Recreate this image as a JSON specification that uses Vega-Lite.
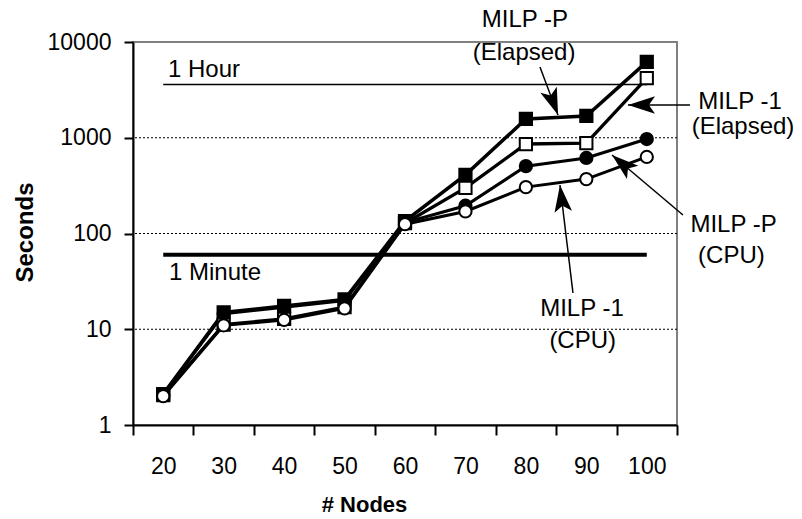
{
  "$schema": "https://vega.github.io/schema/vega-lite/v6.json",
  "width": 544,
  "height": 383,
  "autosize": "none",
  "padding": {"left": 133, "top": 42, "right": 125, "bottom": 94},
  "background": "white",
  "config": {
    "view": {"stroke": "#808080", "strokeWidth": 2},
    "font": "Liberation Sans",
    "text": {"font": "Liberation Sans"}
  },
  "resolve": {"axis": {"x": "independent"}},
  "datasets": {
    "series": [
      {"series": "MILP-P (Elapsed)", "n": 20, "s": 2.1},
      {"series": "MILP-P (Elapsed)", "n": 30, "s": 15},
      {"series": "MILP-P (Elapsed)", "n": 40, "s": 17.5},
      {"series": "MILP-P (Elapsed)", "n": 50, "s": 20.5},
      {"series": "MILP-P (Elapsed)", "n": 60, "s": 135},
      {"series": "MILP-P (Elapsed)", "n": 70, "s": 410},
      {"series": "MILP-P (Elapsed)", "n": 80, "s": 1570},
      {"series": "MILP-P (Elapsed)", "n": 90, "s": 1690},
      {"series": "MILP-P (Elapsed)", "n": 100, "s": 6200},
      {"series": "MILP-1 (Elapsed)", "n": 20, "s": 2.05},
      {"series": "MILP-1 (Elapsed)", "n": 30, "s": 11.2},
      {"series": "MILP-1 (Elapsed)", "n": 40, "s": 12.8},
      {"series": "MILP-1 (Elapsed)", "n": 50, "s": 17},
      {"series": "MILP-1 (Elapsed)", "n": 60, "s": 128},
      {"series": "MILP-1 (Elapsed)", "n": 70, "s": 300},
      {"series": "MILP-1 (Elapsed)", "n": 80, "s": 860},
      {"series": "MILP-1 (Elapsed)", "n": 90, "s": 880},
      {"series": "MILP-1 (Elapsed)", "n": 100, "s": 4200},
      {"series": "MILP-P (CPU)", "n": 20, "s": 2.1},
      {"series": "MILP-P (CPU)", "n": 30, "s": 14.5},
      {"series": "MILP-P (CPU)", "n": 40, "s": 17},
      {"series": "MILP-P (CPU)", "n": 50, "s": 20},
      {"series": "MILP-P (CPU)", "n": 60, "s": 130},
      {"series": "MILP-P (CPU)", "n": 70, "s": 195},
      {"series": "MILP-P (CPU)", "n": 80, "s": 505},
      {"series": "MILP-P (CPU)", "n": 90, "s": 615},
      {"series": "MILP-P (CPU)", "n": 100, "s": 970},
      {"series": "MILP-1 (CPU)", "n": 20, "s": 2.0},
      {"series": "MILP-1 (CPU)", "n": 30, "s": 11},
      {"series": "MILP-1 (CPU)", "n": 40, "s": 12.5},
      {"series": "MILP-1 (CPU)", "n": 50, "s": 16.5},
      {"series": "MILP-1 (CPU)", "n": 60, "s": 125},
      {"series": "MILP-1 (CPU)", "n": 70, "s": 170},
      {"series": "MILP-1 (CPU)", "n": 80, "s": 305},
      {"series": "MILP-1 (CPU)", "n": 90, "s": 370},
      {"series": "MILP-1 (CPU)", "n": 100, "s": 630}
    ],
    "labels": [
      {"label": "MILP -P", "n": 79.85, "s": 16810},
      {"label": "(Elapsed)", "n": 79.7, "s": 7603},
      {"label": "MILP -1", "n": 115.42, "s": 2340},
      {"label": "(Elapsed)", "n": 115.92, "s": 1283},
      {"label": "MILP -P", "n": 114.35, "s": 122.96},
      {"label": "(CPU)", "n": 114.0, "s": 57.67},
      {"label": "MILP -1", "n": 89.28, "s": 16.12},
      {"label": "(CPU)", "n": 89.4, "s": 7.47}
    ],
    "shafts": [
      {"n": 82.33, "s": 5483, "n2": 85.31, "s2": 1728},
      {"n": 107.15, "s": 2198, "n2": 96.89, "s2": 2198},
      {"n": 105.99, "s": 156.1, "n2": 94.25, "s2": 660.2},
      {"n": 87.79, "s": 23.91, "n2": 85.64, "s2": 321.0}
    ]
  },
  "layer": [
    {
      "data": {"values": [{"s": 10}, {"s": 100}, {"s": 1000}]},
      "mark": {"type": "rule", "color": "black", "strokeWidth": 1, "strokeDash": [2, 2]},
      "encoding": {
        "y": {
          "field": "s", "type": "quantitative",
          "scale": {"type": "log", "domain": [1, 10000], "nice": false},
          "axis": {
            "title": "Seconds",
            "values": [1, 10, 100, 1000, 10000],
            "labelExpr": "format(datum.value, 'd')",
            "labelFontSize": 23,
            "labelColor": "black",
            "labelPadding": 13,
            "tickSize": 9,
            "tickWidth": 2,
            "tickColor": "black",
            "domainColor": "black",
            "domainWidth": 2,
            "grid": false,
            "titleFontSize": 24,
            "titleFontWeight": "bold",
            "titleColor": "black",
            "titleX": -108,
            "titleY": 190,
            "titleBaseline": "middle",
            "titleAlign": "center",
            "titleAngle": -90
          }
        }
      }
    },
    {
      "data": {"values": [{"label": "1 Hour", "n": 20, "n2": 100, "s": 3600}]},
      "mark": {"type": "rule", "color": "black", "strokeWidth": 1.5},
      "encoding": {
        "x": {
          "field": "n", "type": "quantitative",
          "scale": {"domain": [15, 105], "nice": false, "zero": false},
          "axis": {
            "orient": "bottom",
            "title": null,
            "values": [15, 25, 35, 45, 55, 65, 75, 85, 95, 105],
            "labels": false,
            "tickSize": 10,
            "tickWidth": 2,
            "tickColor": "black",
            "domainColor": "black",
            "domainWidth": 2,
            "grid": false
          }
        },
        "x2": {"field": "n2"},
        "y": {"field": "s", "type": "quantitative", "scale": {"type": "log", "domain": [1, 10000], "nice": false}}
      }
    },
    {
      "data": {"values": [{"label": "1 Minute", "n": 20, "n2": 100, "s": 60}]},
      "mark": {"type": "rule", "color": "black", "strokeWidth": 4},
      "encoding": {
        "x": {"field": "n", "type": "quantitative", "scale": {"domain": [15, 105], "nice": false, "zero": false}, "axis": null},
        "x2": {"field": "n2"},
        "y": {"field": "s", "type": "quantitative", "scale": {"type": "log", "domain": [1, 10000], "nice": false}}
      }
    },
    {
      "data": {"name": "series"},
      "mark": {"type": "line", "color": "black"},
      "encoding": {
        "x": {
          "field": "n", "type": "quantitative",
          "scale": {"domain": [15, 105], "nice": false, "zero": false},
          "axis": {
            "orient": "bottom",
            "title": "# Nodes",
            "values": [20, 30, 40, 50, 60, 70, 80, 90, 100],
            "format": "d",
            "labelOverlap": false,
            "labelFlush": false,
            "labelFontSize": 23,
            "labelColor": "black",
            "labelPadding": 30,
            "ticks": false,
            "domain": false,
            "grid": false,
            "titleFontSize": 22,
            "titleFontWeight": "bold",
            "titleColor": "black",
            "titleX": 231,
            "titleY": 79,
            "titleBaseline": "middle",
            "titleAlign": "center"
          }
        },
        "y": {"field": "s", "type": "quantitative", "scale": {"type": "log", "domain": [1, 10000], "nice": false}},
        "detail": {"field": "series", "type": "nominal"},
        "strokeWidth": {
          "field": "series", "type": "nominal",
          "scale": {"domain": ["MILP-P (Elapsed)", "MILP-1 (Elapsed)", "MILP-P (CPU)", "MILP-1 (CPU)"], "range": [3.5, 3, 1.5, 1.5]},
          "legend": null
        }
      }
    },
    {
      "data": {"name": "series"},
      "mark": {"type": "point", "filled": false, "stroke": "black", "strokeWidth": 2, "opacity": 1},
      "encoding": {
        "x": {"field": "n", "type": "quantitative", "scale": {"domain": [15, 105], "nice": false, "zero": false}, "axis": null},
        "y": {"field": "s", "type": "quantitative", "scale": {"type": "log", "domain": [1, 10000], "nice": false}},
        "shape": {
          "field": "series", "type": "nominal",
          "scale": {"domain": ["MILP-P (Elapsed)", "MILP-1 (Elapsed)", "MILP-P (CPU)", "MILP-1 (CPU)"], "range": ["square", "square", "circle", "circle"]},
          "legend": null
        },
        "fill": {
          "field": "series", "type": "nominal",
          "scale": {"domain": ["MILP-P (Elapsed)", "MILP-1 (Elapsed)", "MILP-P (CPU)", "MILP-1 (CPU)"], "range": ["black", "white", "black", "white"]},
          "legend": null
        },
        "size": {
          "field": "series", "type": "nominal",
          "scale": {"domain": ["MILP-P (Elapsed)", "MILP-1 (Elapsed)", "MILP-P (CPU)", "MILP-1 (CPU)"], "range": [150, 150, 120, 120]},
          "legend": null
        }
      }
    },
    {
      "data": {"name": "labels"},
      "mark": {"type": "text", "fontSize": 24, "align": "center", "baseline": "middle", "color": "black", "font": "Liberation Sans"},
      "encoding": {
        "x": {"field": "n", "type": "quantitative", "scale": {"domain": [15, 105], "nice": false, "zero": false}, "axis": null},
        "y": {"field": "s", "type": "quantitative", "scale": {"type": "log", "domain": [1, 10000], "nice": false}},
        "text": {"field": "label"}
      }
    },
    {
      "data": {"values": [{"label": "1 Hour", "n": 20.79, "s": 5050}, {"label": "1 Minute", "n": 20.96, "s": 38.3}]},
      "mark": {"type": "text", "fontSize": 24, "align": "left", "baseline": "middle", "color": "black", "font": "Liberation Sans"},
      "encoding": {
        "x": {"field": "n", "type": "quantitative", "scale": {"domain": [15, 105], "nice": false, "zero": false}, "axis": null},
        "y": {"field": "s", "type": "quantitative", "scale": {"type": "log", "domain": [1, 10000], "nice": false}},
        "text": {"field": "label"}
      }
    },
    {
      "data": {"name": "shafts"},
      "mark": {"type": "rule", "color": "black", "strokeWidth": 1.5},
      "encoding": {
        "x": {"field": "n", "type": "quantitative", "scale": {"domain": [15, 105], "nice": false, "zero": false}, "axis": null},
        "x2": {"field": "n2"},
        "y": {"field": "s", "type": "quantitative", "scale": {"type": "log", "domain": [1, 10000], "nice": false}},
        "y2": {"field": "s2"}
      }
    },
    {
      "data": {"values": [{"n": 84.54, "s": 2340}]},
      "mark": {"type": "point", "shape": "M0,-1L0.65,1L0,0.55L-0.65,1Z", "filled": true, "color": "black", "opacity": 1, "size": 729, "angle": 159.4},
      "encoding": {
        "x": {"field": "n", "type": "quantitative", "scale": {"domain": [15, 105], "nice": false, "zero": false}, "axis": null},
        "y": {"field": "s", "type": "quantitative", "scale": {"type": "log", "domain": [1, 10000], "nice": false}}
      }
    },
    {
      "data": {"values": [{"n": 99.13, "s": 2198}]},
      "mark": {"type": "point", "shape": "M0,-1L0.65,1L0,0.55L-0.65,1Z", "filled": true, "color": "black", "opacity": 1, "size": 729, "angle": 270},
      "encoding": {
        "x": {"field": "n", "type": "quantitative", "scale": {"domain": [15, 105], "nice": false, "zero": false}, "axis": null},
        "y": {"field": "s", "type": "quantitative", "scale": {"type": "log", "domain": [1, 10000], "nice": false}}
      }
    },
    {
      "data": {"values": [{"n": 95.95, "s": 535.8}]},
      "mark": {"type": "point", "shape": "M0,-1L0.65,1L0,0.55L-0.65,1Z", "filled": true, "color": "black", "opacity": 1, "size": 729, "angle": 310.2},
      "encoding": {
        "x": {"field": "n", "type": "quantitative", "scale": {"domain": [15, 105], "nice": false, "zero": false}, "axis": null},
        "y": {"field": "s", "type": "quantitative", "scale": {"type": "log", "domain": [1, 10000], "nice": false}}
      }
    },
    {
      "data": {"values": [{"n": 85.91, "s": 232.6}]},
      "mark": {"type": "point", "shape": "M0,-1L0.65,1L0,0.55L-0.65,1Z", "filled": true, "color": "black", "opacity": 1, "size": 729, "angle": 353.1},
      "encoding": {
        "x": {"field": "n", "type": "quantitative", "scale": {"domain": [15, 105], "nice": false, "zero": false}, "axis": null},
        "y": {"field": "s", "type": "quantitative", "scale": {"type": "log", "domain": [1, 10000], "nice": false}}
      }
    }
  ]
}
